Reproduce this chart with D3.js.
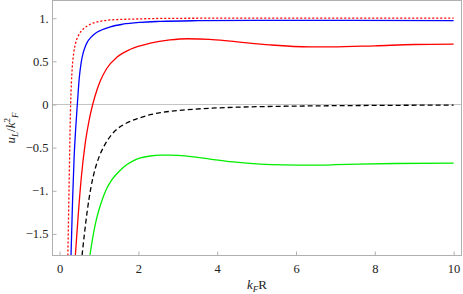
<!DOCTYPE html>
<html>
<head>
<meta charset="utf-8">
<script src="https://cdn.jsdelivr.net/npm/d3@7"></script>
<style>
  body { margin: 0; background: #fff; }
  svg { display: block; }
  svg text { font-family: "Liberation Serif", "Times New Roman", serif !important; }
  .tick text { font-size: 12.5px; fill: #222; }
</style>
</head>
<body>
<div class="graph"></div>
<script>
// values
var xTicks = [0, 2, 4, 6, 8, 10];
var yTicks = [-1.5, -1, -0.5, 0, 0.5, 1];

var dottedX = [0.21, 0.235, 0.26, 0.28, 0.30, 0.32, 0.36, 0.40, 0.48, 0.57, 0.70, 0.86, 1.05, 1.29, 1.88, 2.56, 4, 10];
var dottedY = [-1.75, -1.1, -0.45, 0, 0.25, 0.42, 0.6, 0.70, 0.80, 0.86, 0.91, 0.945, 0.965, 0.98, 0.99, 0.997, 1.0, 1.0];

var blueX = [0.29, 0.33, 0.37, 0.41, 0.45, 0.50, 0.55, 0.60, 0.65, 0.70, 0.80, 0.91, 1.05, 1.29, 1.6, 2.05, 2.56, 3.5, 5, 7, 10];
var blueY = [-1.75, -1.1, -0.6, -0.27, 0, 0.31, 0.49, 0.6, 0.67, 0.72, 0.78, 0.825, 0.86, 0.9, 0.93, 0.952, 0.963, 0.971, 0.975, 0.975, 0.972];

var redX = [0.40, 0.47, 0.55, 0.65, 0.75, 0.84, 0.95, 1.04, 1.2, 1.46, 1.8, 2.3, 2.8, 3.25, 3.8, 4.33, 5.34, 6.35, 6.9, 8, 9, 10];
var redY = [-1.75, -1.3, -0.85, -0.45, -0.18, 0, 0.17, 0.28, 0.42, 0.55, 0.64, 0.71, 0.748, 0.762, 0.755, 0.735, 0.69, 0.667, 0.667, 0.68, 0.695, 0.70];

var dashedX = [0.57, 0.63, 0.7, 0.8, 0.9, 1.0, 1.12, 1.3, 1.46, 1.7, 1.97, 2.3, 2.56, 3.0, 3.4, 4.2, 5.09, 6.3, 7.6, 10];
var dashedY = [-1.75, -1.5, -1.24, -0.95, -0.75, -0.61, -0.49, -0.36, -0.285, -0.215, -0.165, -0.118, -0.095, -0.07, -0.055, -0.036, -0.025, -0.017, -0.012, -0.007];

var greenX = [0.77, 0.82, 0.87, 0.93, 1.0, 1.1, 1.2, 1.3, 1.46, 1.6, 1.71, 1.88, 2.05, 2.3, 2.56, 2.8, 3.0, 3.4, 3.82, 4.4, 5.09, 5.7, 6.35, 7.0, 7.6, 8.5, 10];
var greenY = [-1.75, -1.6, -1.47, -1.34, -1.22, -1.08, -0.97, -0.89, -0.80, -0.735, -0.695, -0.65, -0.62, -0.597, -0.587, -0.586, -0.59, -0.607, -0.633, -0.665, -0.69, -0.70, -0.703, -0.698, -0.69, -0.684, -0.68];

var series = [
  { xs: dottedX, ys: dottedY, color: '#ff0000', dash: '2,2' },
  { xs: blueX, ys: blueY, color: '#0000ff', dash: null },
  { xs: redX, ys: redY, color: '#ff0000', dash: null },
  { xs: dashedX, ys: dashedY, color: '#000000', dash: '5,3' },
  { xs: greenX, ys: greenY, color: '#00ee00', dash: null }
];

var W = 463, H = 294;
var L = 52.5, R = 461.5, T = 0.5, B = 255.5;

var x = d3.scaleLinear().domain([-0.18, 10.2]).range([L, R]);
var y = d3.scaleLinear().domain([-1.75, 1.205]).range([B, T]);

var svg = d3.select('.graph')
  .append('svg')
  .attr('width', W)
  .attr('height', H);

svg.append('clipPath').attr('id', 'clip')
  .append('rect')
  .attr('x', L).attr('y', T)
  .attr('width', R - L).attr('height', B - T);

// axis line at zero
svg.append('line')
  .attr('x1', L).attr('x2', R)
  .attr('y1', Math.round(y(0)) + 0.5).attr('y2', Math.round(y(0)) + 0.5)
  .attr('stroke', '#c4c4c4')
  .attr('stroke-width', 1);

var line = d3.line()
  .x(function (d) { return x(d[0]); })
  .y(function (d) { return y(d[1]); })
  .curve(d3.curveMonotoneX);

var g = svg.append('g').attr('clip-path', 'url(#clip)');
g.selectAll('path.curve')
  .data(series)
  .enter()
  .append('path')
  .attr('class', 'curve')
  .attr('fill', 'none')
  .attr('stroke', function (d) { return d.color; })
  .attr('stroke-width', 1.3)
  .attr('stroke-dasharray', function (d) { return d.dash; })
  .attr('d', function (d) { return line(d.xs.map(function (v, i) { return [v, d.ys[i]]; })); });

// frame
svg.append('rect')
  .attr('x', L).attr('y', T)
  .attr('width', R - L).attr('height', B - T)
  .attr('fill', 'none')
  .attr('stroke', '#b0b0b0')
  .attr('stroke-width', 1);

function fmtY(v) {
  if (v === 0) return '0';
  var s = Number.isInteger(v) ? Math.abs(v) + '.' : String(Math.abs(v));
  return (v < 0 ? '\u2212' : '') + s;
}

function styleAxis(s) {
  s.attr('font-family', null).attr('font-size', null);
  s.select('.domain').remove();
  s.selectAll('.tick line').attr('stroke', '#b0b0b0');
}

var xAxis = d3.axisBottom(x)
  .tickValues(xTicks)
  .tickSize(-4)
  .tickPadding(9)
  .tickFormat(function (d) { return d; });
svg.append('g')
  .attr('transform', 'translate(0,' + B + ')')
  .call(xAxis)
  .call(styleAxis);

var yAxis = d3.axisLeft(y)
  .tickValues(yTicks)
  .tickSize(-4)
  .tickPadding(4)
  .tickFormat(fmtY);
svg.append('g')
  .attr('transform', 'translate(' + L + ',0)')
  .call(yAxis)
  .call(styleAxis);

// x label: k_F R
var xl = svg.append('text')
  .attr('x', (L + R) / 2)
  .attr('y', 289)
  .attr('text-anchor', 'middle')
  .attr('font-size', 13)
  .attr('fill', '#222');
xl.append('tspan').attr('font-style', 'italic').text('k');
xl.append('tspan').attr('font-style', 'italic').attr('font-size', 9).attr('dy', 3).text('F');
xl.append('tspan').attr('dy', -3).text('R');

// y label: u_L / k^2_F
var yl = svg.append('text')
  .attr('transform', 'translate(15,128) rotate(-90)')
  .attr('text-anchor', 'middle')
  .attr('font-size', 13)
  .attr('fill', '#222');
yl.append('tspan').attr('font-style', 'italic').text('u');
yl.append('tspan').attr('font-style', 'italic').attr('font-size', 9).attr('dy', 3).text('L');
yl.append('tspan').attr('dy', -3).text('/');
yl.append('tspan').attr('font-style', 'italic').text('k');
yl.append('tspan').attr('font-size', 9).attr('dy', -5).text('2');
yl.append('tspan').attr('font-style', 'italic').attr('font-size', 9).attr('dy', 8).text('F');
</script>
</body>
</html>
